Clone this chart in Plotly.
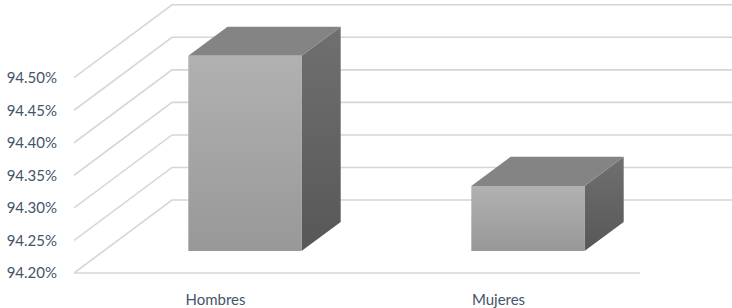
import plotly.graph_objects as go

categories = ["Hombres", "Mujeres"]
values = [94.50, 94.30]
tick_values = [94.20, 94.25, 94.30, 94.35, 94.40, 94.45, 94.50]
tick_labels = ["94.20%", "94.25%", "94.30%", "94.35%", "94.40%", "94.45%", "94.50%"]

BASE = 94.20
# oblique depth projection (full depth), in axis units
DX = 0.3463
DY = 0.1121
D_FRONT, D_BACK = 0.3, 0.7
HALF_W = 0.2
X_MIN, X_MAX = -0.5, 1.8251
Y_MIN, Y_MAX = 94.1923, 94.6194

GRID = "#d6d6d6"
TEXT = "#44546a"

fig = go.Figure()

def poly(xs, ys, **kw):
    fig.add_trace(go.Scatter(x=xs + [xs[0]], y=ys + [ys[0]], mode="lines",
                             fill="toself", line=dict(width=0),
                             hoverinfo="skip", showlegend=False, **kw))

def line(xs, ys):
    fig.add_trace(go.Scatter(x=xs, y=ys, mode="lines",
                             line=dict(color=GRID, width=1.6),
                             hoverinfo="skip", showlegend=False))

# walls / gridlines
for t in tick_values:
    line([X_MIN, X_MIN + DX, X_MAX + 1], [t, t + DY, t + DY])
# front floor edge
line([X_MIN, len(categories) - 0.5], [BASE, BASE])

# bars
for i, v in enumerate(values):
    fx, fy = D_FRONT * DX, D_FRONT * DY
    bx, by = D_BACK * DX, D_BACK * DY
    xl, xr = i - HALF_W, i + HALF_W
    # side face
    poly([xr + fx, xr + fx, xr + bx, xr + bx],
         [BASE + fy, v + fy, v + by, BASE + by],
         fillgradient=dict(type="vertical",
                           colorscale=[[0, "#575757"], [1, "#6f706f"]]))
    # top face
    poly([xl + fx, xr + fx, xr + bx, xl + bx],
         [v + fy, v + fy, v + by, v + by],
         fillcolor="#848484")
    # front face
    poly([xl + fx, xr + fx, xr + fx, xl + fx],
         [BASE + fy, BASE + fy, v + fy, v + fy],
         fillgradient=dict(type="vertical",
                           colorscale=[[0, "#989898"], [1, "#b0b1b0"]]))

fig.update_layout(
    width=732, height=308,
    margin=dict(l=74, r=0, t=0, b=30),
    paper_bgcolor="white", plot_bgcolor="white",
    font=dict(family="Lato, 'Open Sans', sans-serif", size=15, color=TEXT),
    xaxis=dict(range=[X_MIN, X_MAX], tickvals=list(range(len(categories))),
               ticktext=categories, showgrid=False, zeroline=False,
               showline=False, ticks="outside", ticklen=8,
               tickcolor="rgba(0,0,0,0)", fixedrange=True),
    yaxis=dict(range=[Y_MIN, Y_MAX], tickvals=tick_values, ticktext=tick_labels,
               showgrid=False, zeroline=False, showline=False,
               ticks="outside", ticklen=13, tickcolor="rgba(0,0,0,0)",
               fixedrange=True),
)

fig.write_html(
    "out.html",
    config={"displayModeBar": False},
    post_script="document.body.style.margin='0';document.body.style.overflow='hidden';",
)
